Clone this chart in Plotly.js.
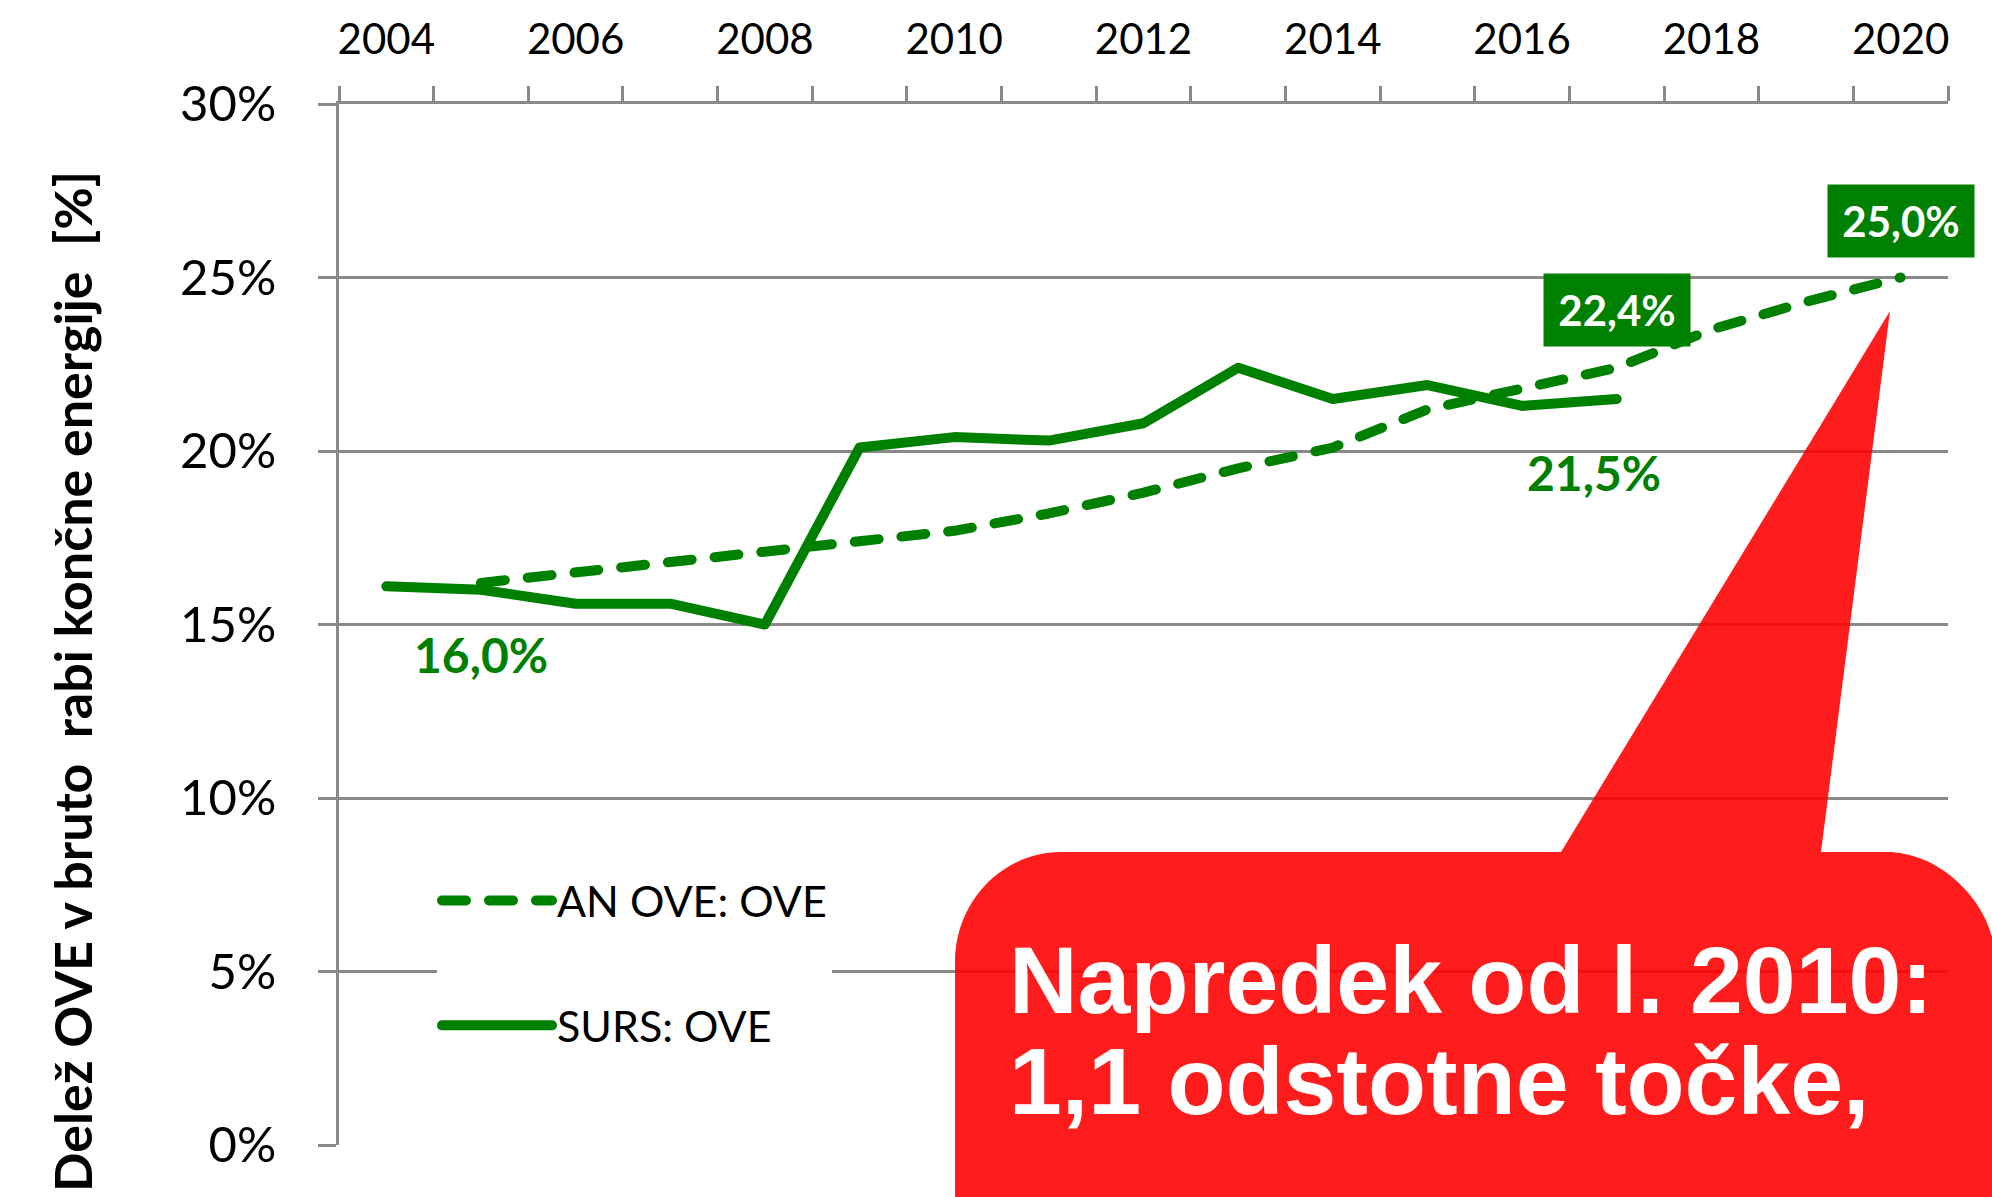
<!DOCTYPE html>
<html>
<head>
<meta charset="utf-8">
<script src="https://cdn.plot.ly/plotly-3.0.1.min.js"></script>
<style>
html,body{margin:0;padding:0;background:#ffffff;}
#chart{width:1992px;height:1197px;}
.scatterlayer .js-line, .legend .js-line{stroke-linecap:round;stroke-linejoin:round;}
</style>
</head>
<body>
<div id="chart"></div>
<script>
// ---- data ----
const yearsSURS  = [2004,2005,2006,2007,2008,2009,2010,2011,2012,2013,2014,2015,2016,2017];
const valuesSURS = [16.1,16.0,15.6,15.6,15.0,20.1,20.4,20.3,20.8,22.4,21.5,21.9,21.3,21.5];
const yearsAN    = [2005,2006,2007,2008,2009,2010,2011,2012,2013,2014,2015,2016,2017,2018,2019,2020];
const valuesAN   = [16.2,16.5,16.8,17.1,17.4,17.7,18.2,18.8,19.5,20.1,21.2,21.8,22.4,23.5,24.3,25.0];
const seriesNames = ['AN OVE: OVE','SURS: OVE'];
const xTickYears  = [2004,2006,2008,2010,2012,2014,2016,2018,2020];
const xTickLabels = ['2004','2006','2008','2010','2012','2014','2016','2018','2020'];
const yTickValues = [0,5,10,15,20,25,30];
const yTickLabels = ['0%','5%','10%','15%','20%','25%','30%'];
const yTitleText  = 'Delež OVE v bruto\u00a0 rabi končne energije\u00a0 [%]';
const calloutLines = ['Napredek od l. 2010:','1,1 odstotne točke,'];

// ---- layout helpers ----
const W = 1992, H = 1197;
const M = {l:339, r:44, t:104, b:52};
const PW = W - M.l - M.r, PH = H - M.t - M.b;
const px = x => (x - M.l) / PW;
const py = y => (H - M.b - y) / PH;
const GREEN = '#008000';
const GRID = '#898989';
const fmt = v => v.toFixed(1).replace('.', ',') + '%';

const traces = [
  {x: yearsAN, y: valuesAN, name: seriesNames[0], type: 'scatter', mode: 'lines',
   legendgroup: 'a', line: {color: GREEN, width: 10, dash: '24px,23px'}},
  {x: yearsSURS, y: valuesSURS, name: seriesNames[1], type: 'scatter', mode: 'lines',
   legendgroup: 'b', line: {color: GREEN, width: 10}}
];

const iAN17 = yearsAN.indexOf(2017), iAN20 = yearsAN.indexOf(2020);
const iS05 = yearsSURS.indexOf(2005), iS17 = yearsSURS.indexOf(2017);

const lblFont = {family: 'Lato, sans-serif', size: 48, color: GREEN, weight: 'bold'};
const boxFont = {family: 'Lato, sans-serif', size: 42, color: '#ffffff', weight: 'bold'};

// callout path (paper coordinates)
const P = (x, y) => px(x).toFixed(5) + ',' + py(y).toFixed(5);
const calloutPath = 'M' + P(955, 1270) + ' L' + P(955, 962) +
  ' C' + P(955, 901) + ' ' + P(1003, 852) + ' ' + P(1061, 852) +
  ' L' + P(1561, 852) + ' L' + P(1890, 311) + ' L' + P(1821, 852) +
  ' L' + P(1886, 852) +
  ' C' + P(1946, 852) + ' ' + P(1995, 910) + ' ' + P(1995, 958) +
  ' L' + P(1995, 1270) + ' Z';

const layout = {
  width: W, height: H,
  margin: M,
  paper_bgcolor: '#ffffff', plot_bgcolor: '#ffffff',
  font: {family: 'Lato, sans-serif', color: '#000000'},
  showlegend: true,
  legend: {
    x: px(437), xanchor: 'left', y: py(866), yanchor: 'top',
    bgcolor: '#ffffff', borderwidth: 0,
    font: {family: 'Lato, sans-serif', size: 43, color: '#000000'},
    itemwidth: 110, traceorder: 'grouped', tracegroupgap: 66
  },
  xaxis: {
    side: 'top', range: [2003.5, 2020.5], type: 'linear',
    tickvals: xTickYears, ticktext: xTickLabels, ticks: '',
    ticklabelstandoff: 30,
    tickfont: {family: 'Lato, sans-serif', size: 42, color: '#000000'},
    showgrid: false, zeroline: false,
    showline: true, linecolor: GRID, linewidth: 3,
    minor: {tick0: 2003.5, dtick: 1, ticks: 'outside', ticklen: 15, tickwidth: 3, tickcolor: GRID, showgrid: false},
    fixedrange: true
  },
  yaxis: {
    range: [0, 30], tickvals: yTickValues, ticktext: yTickLabels,
    ticks: 'outside', ticklen: 18, tickwidth: 3, tickcolor: GRID,
    ticklabelstandoff: 32,
    tickfont: {family: 'Lato, sans-serif', size: 49, color: '#000000'},
    showgrid: true, gridcolor: GRID, gridwidth: 3, zeroline: false,
    showline: true, linecolor: GRID, linewidth: 3,
    fixedrange: true
  },
  shapes: [
    {type: 'path', xref: 'paper', yref: 'paper', path: calloutPath,
     fillcolor: 'rgb(255,0,0)', opacity: 0.89, line: {width: 0}, layer: 'above'}
  ],
  annotations: [
    {xref: 'paper', yref: 'paper', x: px(72), y: py(682), text: yTitleText, textangle: -90,
     showarrow: false, xanchor: 'center', yanchor: 'middle',
     font: {family: 'Lato, sans-serif', size: 52, color: '#000000', weight: 'bold'}},
    {x: yearsSURS[iS05], y: valuesSURS[iS05], text: fmt(valuesSURS[iS05]), showarrow: false,
     yshift: -65, font: lblFont},
    {x: yearsSURS[iS17], y: valuesSURS[iS17], text: fmt(valuesSURS[iS17]), showarrow: false,
     xshift: -23, yshift: -74, font: lblFont},
    {x: yearsAN[iAN17], y: valuesAN[iAN17], text: fmt(valuesAN[iAN17]), showarrow: false,
     yshift: 58, bgcolor: GREEN, width: 146, height: 72, borderpad: 0, font: boxFont},
    {x: yearsAN[iAN20], y: valuesAN[iAN20], text: fmt(valuesAN[iAN20]), showarrow: false,
     yshift: 57, bgcolor: GREEN, width: 146, height: 72, borderpad: 0, font: boxFont},
    {xref: 'paper', yref: 'paper', x: px(1008), y: py(980), text: '<b>' + calloutLines[0] + '</b>',
     showarrow: false, xanchor: 'left', yanchor: 'middle', borderpad: 0,
     font: {family: 'Liberation Sans, Arial, sans-serif', size: 95, color: '#ffffff'}},
    {xref: 'paper', yref: 'paper', x: px(1008), y: py(1081), text: '<b>' + calloutLines[1] + '</b>',
     showarrow: false, xanchor: 'left', yanchor: 'middle', borderpad: 0,
     font: {family: 'Liberation Sans, Arial, sans-serif', size: 95, color: '#ffffff'}}
  ]
};

Plotly.newPlot('chart', traces, layout, {displayModeBar: false, staticPlot: true});
</script>
</body>
</html>
